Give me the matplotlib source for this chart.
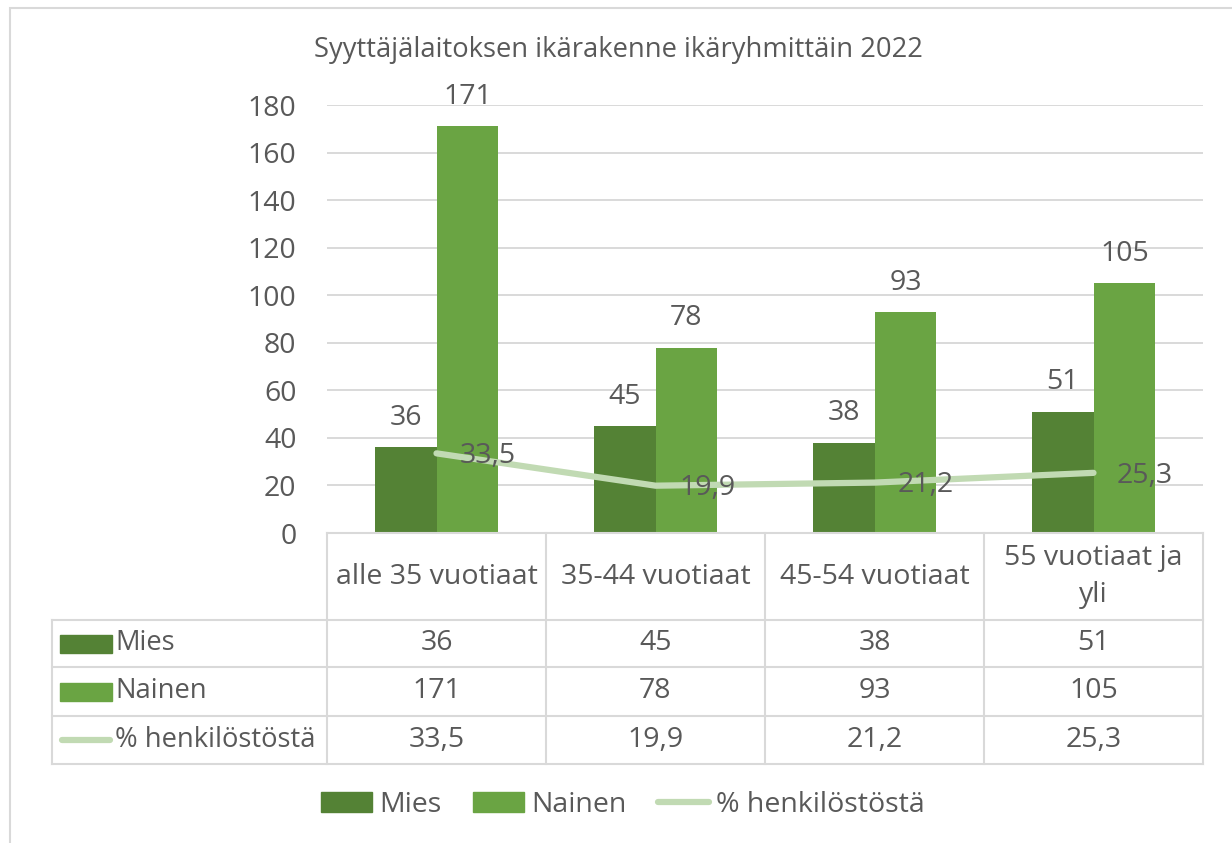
import matplotlib
import numpy as np
from matplotlib import font_manager

matplotlib.use("Agg")
import matplotlib.pyplot as plt
from matplotlib.lines import Line2D
from matplotlib.patches import Rectangle

TITLE = "Syyttäjälaitoksen ikärakenne ikäryhmittäin 2022"
CATEGORIES = ["alle 35 vuotiaat", "35-44 vuotiaat", "45-54 vuotiaat", "55 vuotiaat ja\nyli"]
MIES = [36, 45, 38, 51]
NAINEN = [171, 78, 93, 105]
PERCENT = [33.5, 19.9, 21.2, 25.3]
SERIES_NAMES = ["Mies", "Nainen", "% henkilöstöstä"]
Y_TICKS = [0, 20, 40, 60, 80, 100, 120, 140, 160, 180]

MIES_COLOR = "#548235"
NAINEN_COLOR = "#6AA443"
LINE_COLOR = "#C1DAB3"
TEXT_COLOR = "#595959"
GRID_COLOR = "#D9D9D9"

W, H = 1232, 843


def _pick_font():
    installed = {f.name for f in font_manager.fontManager.ttflist}
    for name in ("Liberation Sans Narrow", "Open Sans", "DejaVu Sans"):
        if name in installed:
            return name
    return "DejaVu Sans"


plt.rcParams["font.family"] = [_pick_font(), "DejaVu Sans"]
plt.rcParams["text.color"] = TEXT_COLOR

FS = 20.5


def fx(px):
    return px / W


def fy(py):
    return 1 - py / H


def fmt(value):
    return f"{value:g}".replace(".", ",")


fig = plt.figure(figsize=(W / 100, H / 100), dpi=100)

# chart frame (cut by image edge on right/bottom)
fig.add_artist(Rectangle((fx(10), fy(860)), fx(1240) - fx(10), fy(8) - fy(860),
                         transform=fig.transFigure, fill=False,
                         edgecolor=GRID_COLOR, linewidth=1.5))

plot_left, plot_right, plot_top, plot_bottom = 327, 1203, 105, 533
ax = fig.add_axes([fx(plot_left), fy(plot_bottom), fx(plot_right) - fx(plot_left),
                   fy(plot_top) - fy(plot_bottom)])

x = np.arange(len(CATEGORIES))
width = 0.283
mies_bars = ax.bar(x - width / 2, MIES, width, color=MIES_COLOR, zorder=2)
nainen_bars = ax.bar(x + width / 2, NAINEN, width, color=NAINEN_COLOR, zorder=2)
ax.plot(x, PERCENT, color=LINE_COLOR, linewidth=4.5, solid_capstyle="round", zorder=3)

for bars, values in ((mies_bars, MIES), (nainen_bars, NAINEN)):
    for bar, value in zip(bars, values):
        ax.annotate(fmt(value), (bar.get_x() + bar.get_width() / 2, value),
                    xytext=(0, 11), textcoords="offset points",
                    ha="center", va="bottom", fontsize=FS, color=TEXT_COLOR)
for xi, value in zip(x, PERCENT):
    ax.annotate(fmt(value), (xi, value), xytext=(17, -2), textcoords="offset points",
                ha="left", va="center", fontsize=FS, color=TEXT_COLOR, zorder=4)

ax.set_xlim(-0.5, len(CATEGORIES) - 0.5)
ax.set_ylim(0, 180)
ax.set_yticks(Y_TICKS)
ax.set_xticks([])
ax.tick_params(axis="y", length=0, pad=22, labelsize=FS, labelcolor=TEXT_COLOR)
ax.grid(axis="y", color=GRID_COLOR, linewidth=1.4, zorder=0)
ax.set_axisbelow(True)
for spine in ax.spines.values():
    spine.set_visible(False)

fig.text(fx(618), fy(50), TITLE, ha="center", va="center", fontsize=19.7, color=TEXT_COLOR)

# data table under the plot
tab_left = 52
col_edges = np.linspace(plot_left, plot_right, len(CATEGORIES) + 1)
row_edges = [533, 620, 667, 716, 764]
line_kw = dict(color=GRID_COLOR, linewidth=1.5, transform=fig.transFigure)

fig.add_artist(Line2D([fx(plot_left), fx(plot_right)], [fy(row_edges[0])] * 2, **line_kw))
for ry in row_edges[1:]:
    fig.add_artist(Line2D([fx(tab_left), fx(plot_right)], [fy(ry)] * 2, **line_kw))
for cx in col_edges:
    fig.add_artist(Line2D([fx(cx)] * 2, [fy(row_edges[0]), fy(row_edges[-1])], **line_kw))
fig.add_artist(Line2D([fx(tab_left)] * 2, [fy(row_edges[1]), fy(row_edges[-1])], **line_kw))

centers = (col_edges[:-1] + col_edges[1:]) / 2
header_mid = (row_edges[0] + row_edges[1]) / 2
for cx, label in zip(centers, CATEGORIES):
    fig.text(fx(cx), fy(header_mid), label, ha="center", va="center",
             fontsize=FS, color=TEXT_COLOR, linespacing=1.4)

rows = [MIES, NAINEN, PERCENT]
for i, (name, values) in enumerate(zip(SERIES_NAMES, rows)):
    mid = (row_edges[i + 1] + row_edges[i + 2]) / 2
    if i < 2:
        color = MIES_COLOR if i == 0 else NAINEN_COLOR
        fig.add_artist(Rectangle((fx(60), fy(mid + 9)), fx(112) - fx(60), fy(mid - 9) - fy(mid + 9),
                                 transform=fig.transFigure, color=color))
    else:
        fig.add_artist(Line2D([fx(62), fx(110)], [fy(mid)] * 2, color=LINE_COLOR, linewidth=4.5,
                              solid_capstyle="round", transform=fig.transFigure))
    fig.text(fx(115), fy(mid), name, ha="left", va="center", fontsize=FS - 0.8, color=TEXT_COLOR)
    for cx, value in zip(centers, values):
        fig.text(fx(cx), fy(mid), fmt(value), ha="center", va="center",
                 fontsize=FS, color=TEXT_COLOR)

handles = [
    Rectangle((0, 0), 1, 1, color=MIES_COLOR),
    Rectangle((0, 0), 1, 1, color=NAINEN_COLOR),
    Line2D([], [], color=LINE_COLOR, linewidth=4.5, solid_capstyle="round"),
]
fig.legend(handles, SERIES_NAMES, loc="center", bbox_to_anchor=(fx(623), fy(805)),
           ncol=3, frameon=False, fontsize=FS, handlelength=1.8, handleheight=0.75,
           handletextpad=0.25, columnspacing=1.1, labelcolor=TEXT_COLOR)

fig.savefig("out.png", dpi=100)
